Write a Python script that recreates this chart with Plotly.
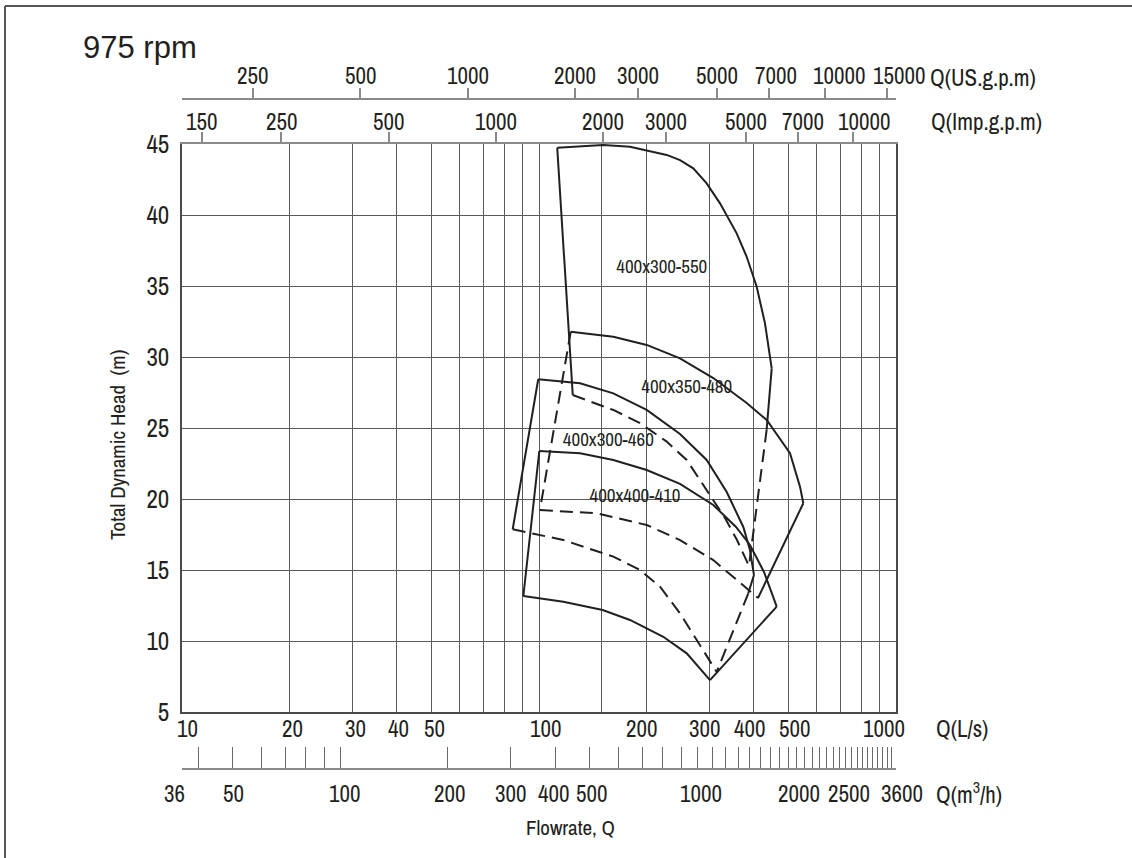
import math
import plotly.graph_objects as go

# ---------------- data (Q in L/s, H in m) ----------------
# 400x300-550
a_top_q = [112.5, 130.3, 151.4, 179.8, 200.3, 227.9, 248.3, 270.5, 294.9, 321.4, 357.9, 381.7, 407.2, 429.6, 448.6]
a_top_h = [44.74, 44.86, 44.93, 44.81, 44.53, 44.23, 43.87, 43.29, 42.23, 40.82, 38.71, 37.06, 34.95, 32.37, 29.20]
a_left_q = [112.5, 124.3]
a_left_h = [44.74, 27.32]
a_right_solid_q = [448.6, 434.3]
a_right_solid_h = [29.20, 24.9]
a_right_dash_q = [434.3, 387.4]
a_right_dash_h = [24.9, 15.28]
a_bot_q = [124.3, 161.5, 191.8, 227.9, 259.3, 291.7, 331.9, 358.6, 387.4]
a_bot_h = [27.32, 26.27, 25.35, 24.04, 22.75, 20.77, 18.66, 17.11, 15.28]

# 400x350-480
b_top_q = [122.7, 161.5, 200.3, 248.3, 307.7, 381.7, 434.4, 504.8, 538.4, 550.0]
b_top_h = [31.78, 31.43, 30.85, 29.91, 28.52, 26.76, 25.56, 23.22, 20.87, 19.70]
b_right_q = [550.0, 410.7]
b_right_h = [19.70, 13.03]
b_bot_q = [100.6, 145.1, 200.3, 248.3, 307.7, 357.9, 410.7]
b_bot_h = [19.23, 18.99, 18.17, 17.11, 15.70, 14.30, 13.03]
b_left_q = [122.7, 100.6]
b_left_h = [31.78, 19.23]

# 400x300-460
c_top_q = [99.5, 130.3, 161.5, 200.3, 248.3, 294.9, 335.6, 373.5, 389.9, 400.1]
c_top_h = [28.43, 28.15, 27.44, 26.27, 24.58, 22.75, 20.49, 18.03, 16.41, 14.65]
c_right_solid_q = [400.1, 385.7]
c_right_solid_h = [14.65, 13.36]
c_right_dash_q = [385.7, 314.6]
c_right_dash_h = [13.36, 7.82]
c_bot_q = [84.4, 117.0, 161.5, 191.8, 218.3, 248.3, 276.6, 307.7, 314.6]
c_bot_h = [17.87, 17.11, 15.94, 15.00, 13.82, 11.95, 10.07, 8.19, 7.82]
c_left_q = [99.5, 84.4]
c_left_h = [28.43, 17.87]

# 400x400-410
d_top_q = [100.2, 130.3, 161.5, 200.3, 248.3, 307.7, 356.3, 389.9, 426.8, 463.3]
d_top_h = [23.38, 23.22, 22.75, 22.04, 21.06, 19.58, 18.03, 16.76, 14.86, 12.42]
d_right_q = [463.3, 301.3]
d_right_h = [12.42, 7.25]
d_bot_q = [90.4, 117.0, 150.8, 179.8, 222.9, 259.3, 301.3]
d_bot_h = [13.17, 12.77, 12.18, 11.48, 10.30, 9.13, 7.25]
d_left_q = [90.4, 100.2]
d_left_h = [13.17, 23.38]

pump_names = ["400x300-550", "400x350-480", "400x300-460", "400x400-410"]
pump_label_q = [220.7, 259.3, 156.4, 185.7]
pump_label_h = [36.25, 27.8, 24.04, 20.12]

# ---------------- scales ----------------
ls_ticks = [10, 20, 30, 40, 50, 60, 70, 80, 90, 100, 150, 200, 300, 400, 500, 600, 700, 800, 900, 1000]
ls_labels = [10, 20, 30, 40, 50, 100, 200, 300, 400, 500, 1000]
imp_ticks = [150, 250, 500, 1000, 2000, 3000, 5000, 7000, 10000]
us_ticks = [250, 500, 1000, 2000, 3000, 5000, 7000, 10000, 15000]
m3h_ticks = [36, 40, 50, 60, 70, 80, 90, 100] + list(range(200, 3700, 100))
m3h_labels = [36, 50, 100, 200, 300, 400, 500, 1000, 2000, 2500, 3600]
head_ticks = [5, 10, 15, 20, 25, 30, 35, 40, 45]

LS_TO_IMP = 13.198
LS_TO_US = 15.850
LS_TO_M3H = 3.6
Q_MIN, Q_MAX = 10, 1000

# ---------------- style ----------------
INK = "#231f20"
GRID = "#5a5a5a"
NARROW = "Archivo Narrow, Roboto Condensed, Asap Condensed, Liberation Sans, sans-serif"
REG = "Liberation Sans, Arial, sans-serif"

W, H = 1132, 858
ML, MR, MT, MB = 182, 236, 99, 89
PW, PH = W - ML - MR, H - MT - MB

# horizontal nudges (px) of individual scale labels
ls_shift = {10: 5, 20: 3, 30: 3, 40: 2, 50: 3, 100: 6, 200: -5, 300: -5, 400: -4, 500: 6, 1000: -12}
imp_shift = {7000: 5, 10000: 11}
us_shift = {7000: 7, 10000: 14, 15000: 12}
m3h_shift = {36: -8, 50: 1, 100: 4, 200: 2, 400: -2, 500: 2, 1000: 4, 2000: -6, 2500: 10, 3600: 6}


def px_x(p):
    return (p - ML) / PW


def px_y(p):
    return (H - MB - p) / PH


fig = go.Figure()
DASH = "13px,7px"


def add(q, h, dash="solid"):
    fig.add_trace(go.Scatter(x=q, y=h, mode="lines", line=dict(color=INK, width=2, dash=dash),
                             hoverinfo="skip", showlegend=False))


add(a_top_q, a_top_h)
add(a_left_q, a_left_h)
add(a_right_solid_q, a_right_solid_h)
add(a_right_dash_q, a_right_dash_h, DASH)
add(a_bot_q, a_bot_h, DASH)

add(b_top_q, b_top_h)
add(b_right_q, b_right_h)
add(b_bot_q, b_bot_h, DASH)
add(b_left_q, b_left_h, DASH)

add(c_top_q, c_top_h)
add(c_right_solid_q, c_right_solid_h)
add(c_right_dash_q, c_right_dash_h, DASH)
add(c_bot_q, c_bot_h, DASH)
add(c_left_q, c_left_h)

add(d_top_q, d_top_h)
add(d_right_q, d_right_h)
add(d_bot_q, d_bot_h)
add(d_left_q, d_left_h)

fig.add_trace(go.Scatter(x=pump_label_q, y=pump_label_h, mode="text", text=pump_names,
                         textfont=dict(family=NARROW, size=19, color=INK),
                         hoverinfo="skip", showlegend=False))

for xa in ["x2", "x3", "x4"]:
    fig.add_trace(go.Scatter(x=[], y=[], xaxis=xa, yaxis="y", showlegend=False, hoverinfo="skip"))

lg = math.log10
ydom = [px_y(712), px_y(144)]
r_ls = [lg(Q_MIN), lg(Q_MAX)]
r_imp = [lg(Q_MIN * LS_TO_IMP), lg(Q_MAX * LS_TO_IMP)]
r_us = [lg(Q_MIN * LS_TO_US), lg(Q_MAX * LS_TO_US)]
r_m3h = [lg(Q_MIN * LS_TO_M3H), lg(Q_MAX * LS_TO_M3H)]

fig.update_layout(
    width=W, height=H, margin=dict(l=ML, r=MR, t=MT, b=MB, pad=0),
    paper_bgcolor="white", plot_bgcolor="white",
    font=dict(family=NARROW, size=23, color=INK),
    xaxis=dict(type="log", range=r_ls, tickmode="array", tickvals=ls_ticks, showticklabels=False,
               showgrid=True, gridcolor=GRID, gridwidth=1, ticks="",
               showline=True, linecolor="#4a4a4a", linewidth=2, mirror=False, zeroline=False,
               anchor="y"),
    xaxis2=dict(type="log", range=r_imp, overlaying="x", side="top", anchor="y", tickmode="array",
                tickvals=imp_ticks, showticklabels=False, ticks="outside", ticklen=10, tickwidth=1.5,
                tickcolor="#8a8a8a", showgrid=False, showline=True, linecolor="#8a8a8a", linewidth=1.5),
    xaxis3=dict(type="log", range=r_us, overlaying="x", side="top", anchor="free", position=1,
                tickmode="array", tickvals=us_ticks, showticklabels=False, ticks="outside", ticklen=10,
                tickwidth=1.5, tickcolor="#8a8a8a", showgrid=False, showline=True, linecolor="#8a8a8a",
                linewidth=1.5),
    xaxis4=dict(type="log", range=r_m3h, overlaying="x", side="bottom", anchor="free", position=0,
                tickmode="array", tickvals=m3h_ticks, showticklabels=False, ticks="inside", ticklen=21,
                tickwidth=1, tickcolor="#6a6a6a", showgrid=False, showline=True, linecolor="#8a8a8a",
                linewidth=1.5),
    yaxis=dict(range=[5, 45], domain=ydom, tickmode="array", tickvals=head_ticks,
               ticktext=[str(v) for v in head_ticks], showgrid=True, gridcolor=GRID, gridwidth=1,
               ticks="", ticklabelstandoff=6, tickfont=dict(size=25), showline=True,
               linecolor="#4a4a4a", linewidth=1.5, mirror=True, zeroline=False),
)


def scale_labels(values, factor, rng, xref, ypx, shifts):
    out = []
    for v in values:
        xv = min(max(lg(v), rng[0]), rng[1])
        out.append(dict(text=str(v), xref=xref, x=xv, xshift=shifts.get(v, 0), yref="paper",
                        y=px_y(ypx), xanchor="center", yanchor="middle", showarrow=False))
    return out


ann = []
ann += scale_labels(ls_labels, 1, r_ls, "x", 728, ls_shift)
ann += scale_labels(imp_ticks, LS_TO_IMP, r_imp, "x2", 121.5, imp_shift)
ann += scale_labels(us_ticks, LS_TO_US, r_us, "x3", 75, us_shift)
ann += scale_labels(m3h_labels, LS_TO_M3H, r_m3h, "x4", 793, m3h_shift)

extra = [
    dict(text="975 rpm", x=px_x(81), y=px_y(48), xanchor="left", yanchor="middle",
         font=dict(family=REG, size=31, color=INK)),
    dict(text="Q(US.g.p.m)", x=px_x(928), y=px_y(77), xanchor="left", yanchor="middle"),
    dict(text="Q(Imp.g.p.m)", x=px_x(929), y=px_y(122), xanchor="left", yanchor="middle"),
    dict(text="Q(L/s)", x=px_x(934), y=px_y(728), xanchor="left", yanchor="middle"),
    dict(text="Q(m<sup>3</sup>/h)", x=px_x(934), y=px_y(793), xanchor="left", yanchor="middle"),
    dict(text="Total Dynamic Head\u00a0\u00a0(m)", x=px_x(117), y=px_y(445), textangle=-90,
         xanchor="center", yanchor="middle", font=dict(size=21)),
    dict(text="Flowrate, Q", x=px_x(570), y=px_y(827), xanchor="center", yanchor="middle",
         font=dict(size=21)),
]
for a in extra:
    a.update(xref="paper", yref="paper", showarrow=False)
ann += extra
fig.update_layout(annotations=ann)

fig.add_shape(type="line", xref="paper", yref="paper", x0=px_x(5), x1=px_x(1132), y0=px_y(6), y1=px_y(6),
              line=dict(color="#555555", width=2))
fig.add_shape(type="line", xref="paper", yref="paper", x0=px_x(5), x1=px_x(5), y0=px_y(6), y1=px_y(858),
              line=dict(color="#555555", width=2))

fig.write_html("out.html", config={"displayModeBar": False},
               post_script="document.body.style.margin='0';document.body.style.overflow='hidden';")
